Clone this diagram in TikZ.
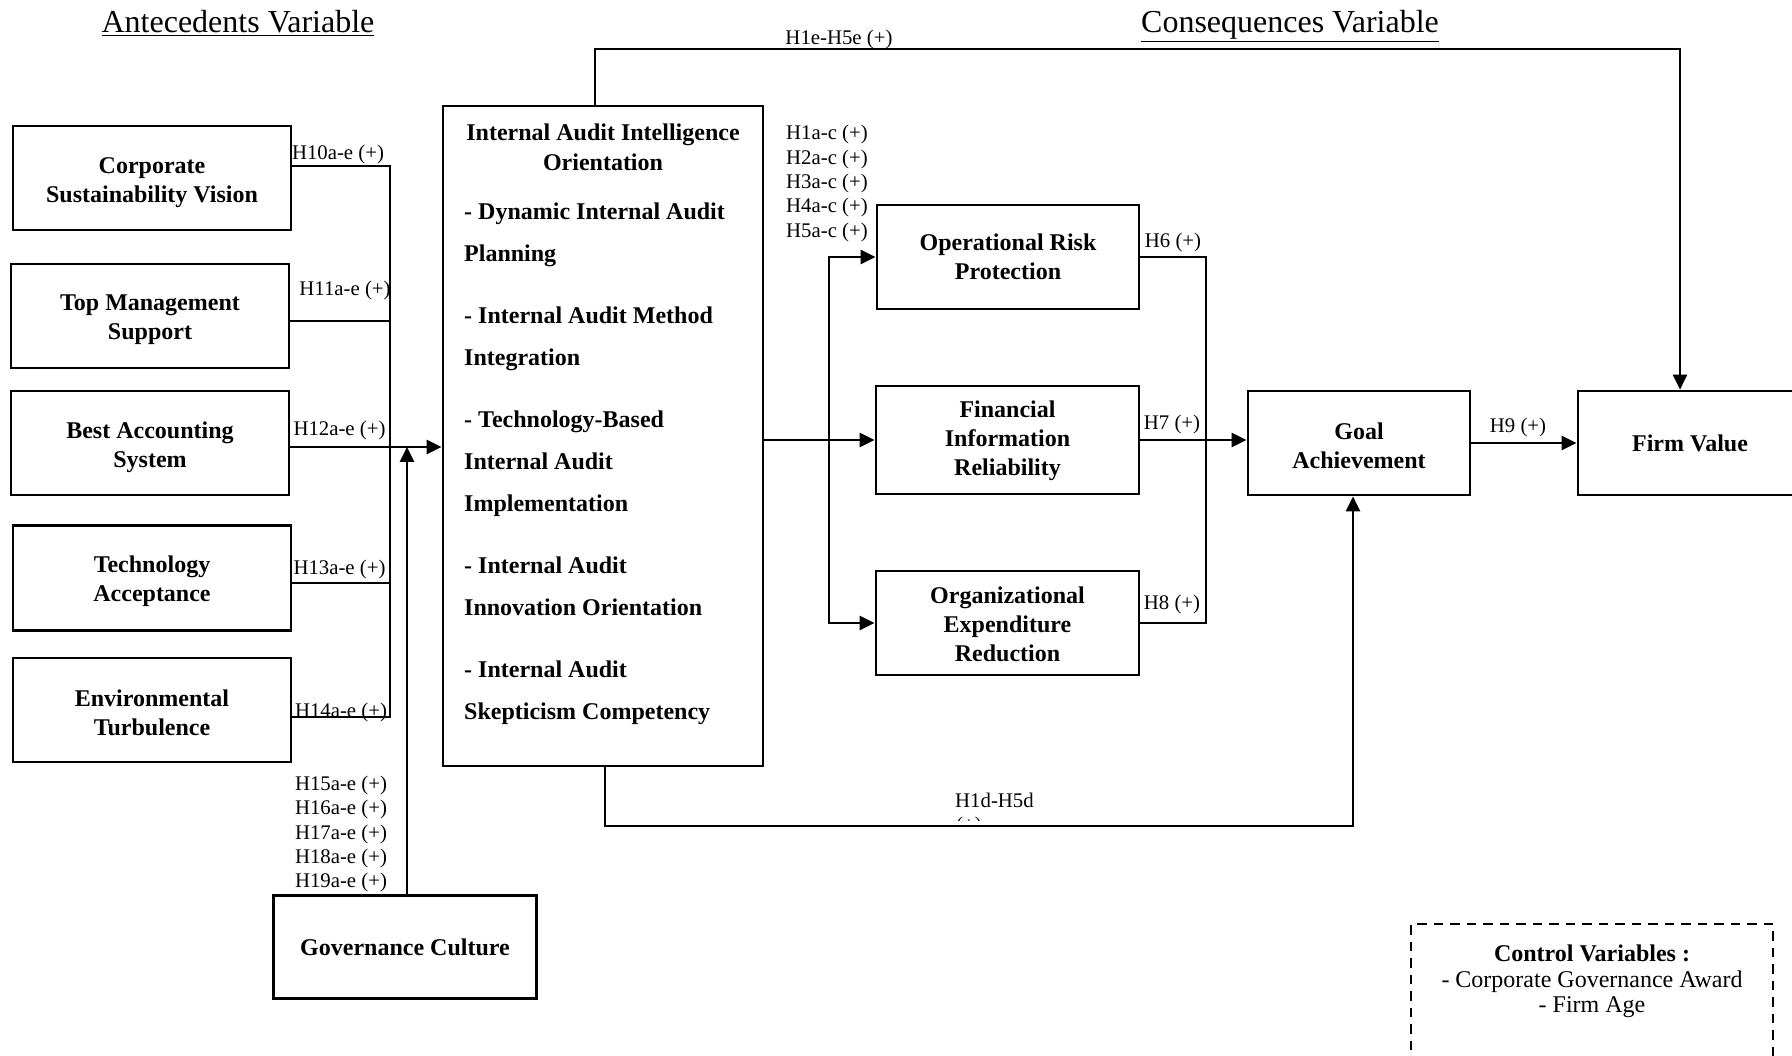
\documentclass[tikz,border=0pt]{standalone}
\usepackage{fontspec}
\setmainfont{Liberation Serif}
\usetikzlibrary{arrows.meta,calc}

% invisible rule that pads the first line of a box label upwards
\newcommand\boxpad[1]{\rule{0pt}{#1}}

\begin{document}
\begin{tikzpicture}[x=1pt,y=-1pt,
  box/.style={draw, line width=2.7pt, inner sep=0pt, align=center,
    font=\bfseries\fontsize{24}{29}\selectfont},
  hyp/.style={inner sep=0pt, font=\fontsize{20.8}{24.4}\selectfont},
  conn/.style={line width=2.7pt},
  arr/.style={conn, -{Triangle[length=15pt,width=14pt]}},
  heading/.style={inner sep=0pt, font=\fontsize{32}{36}\selectfont}]

\fill[white] (0,0) rectangle (1792,1056);
\useasboundingbox (0,0) rectangle (1792,1056);

% headings
\node[heading, anchor=base] (ante) at (238,33) {\underline{Antecedents Variable}};
\node[heading, anchor=base] (cons) at (1290,33) {\underline{Consequences Variable}};

% antecedent constructs
\node[box, minimum width=278pt, minimum height=104pt] (csv) at (152,178) {\boxpad{25pt}Corporate\\Sustainability Vision};
\node[box, minimum width=278pt, minimum height=104pt] (tms) at (150,316) {\boxpad{24pt}Top Management\\Support};
\node[box, minimum width=278pt, minimum height=104pt] (bas) at (150,443) {\boxpad{25pt}Best Accounting\\System};
\node[box, minimum width=278pt, minimum height=105pt] (ta) at (152,578) {\boxpad{24pt}Technology\\Acceptance};
\node[box, minimum width=278pt, minimum height=104pt] (et) at (152,710) {\boxpad{23pt}Environmental\\Turbulence};
\node[box, minimum width=263pt, minimum height=103pt] (gc) at (405,947) {Governance Culture};

% central construct
\node[box, minimum width=320pt, minimum height=660pt] (iaio) at (603,436) {};
\node[inner sep=0pt, align=center, anchor=north,
  font=\bfseries\fontsize{24}{30}\selectfont] (iaiotitle) at (603,124)
  {Internal Audit Intelligence\\Orientation};
\node[inner sep=0pt, align=left, anchor=north west,
  font=\bfseries\fontsize{24}{42}\selectfont] (iaioitems) at (464,203)
  {- Dynamic Internal Audit\\Planning\\[20pt]%
   - Internal Audit Method\\Integration\\[20pt]%
   - Technology-Based\\Internal Audit\\Implementation\\[20pt]%
   - Internal Audit\\Innovation Orientation\\[20pt]%
   - Internal Audit\\Skepticism Competency};

% consequence constructs
\node[box, minimum width=262pt, minimum height=104pt] (orp) at (1008,257) {Operational Risk\\Protection};
\node[box, minimum width=263pt, minimum height=108pt] (fir) at (1007.5,440) {\boxpad{19pt}Financial\\Information\\Reliability};
\node[box, minimum width=263pt, minimum height=104pt] (oer) at (1007.5,623) {\boxpad{19pt}Organizational\\Expenditure\\Reduction};
\node[box, minimum width=222pt, minimum height=104pt] (ga) at (1359,443) {\boxpad{22pt}Goal\\Achievement};
\node[box, minimum width=224pt, minimum height=104pt] (fv) at (1690,443) {Firm Value};

% control variables
\node[draw, line width=2.5pt, dash pattern=on 9.5pt off 7pt, minimum width=362pt, minimum height=166pt] (ctrl) at (1592,1007) {};
\node[inner sep=0pt, align=center, anchor=north, font=\fontsize{24}{25.5}\selectfont] (ctrltext) at (1592,945)
  {\textbf{Control Variables :}\\- Corporate Governance Award\\- Firm Age};

% hypothesis labels
\node[hyp] (h10) at (338,155) {H10a-e (+)};
\node[hyp] (h11) at (345,290) {H11a-e (+)};
\node[hyp] (h12) at (339.5,430) {H12a-e (+)};
\node[hyp] (h13) at (339.5,569) {H13a-e (+)};
\node[hyp] (h14) at (341,712) {H14a-e (+)};
\node[hyp, align=left] (h15) at (341,834) {H15a-e (+)\\H16a-e (+)\\H17a-e (+)\\H18a-e (+)\\H19a-e (+)};
\node[hyp, align=left] (h1ac) at (827,183.5) {H1a-c (+)\\H2a-c (+)\\H3a-c (+)\\H4a-c (+)\\H5a-c (+)};
\node[hyp] (h6) at (1173,243) {H6 (+)};
\node[hyp] (h7) at (1172,424) {H7 (+)};
\node[hyp] (h8) at (1172,604) {H8 (+)};
\node[hyp] (h9) at (1518,427) {H9 (+)};
\node[hyp] (h1e) at (839,40) {H1e-H5e (+)};
\node[hyp, anchor=base west] (h1d) at (955,807) {H1d-H5d};
\begin{scope}
  \clip (940,812) rectangle (1000,820.5);
  \node[hyp, anchor=base west] (h1dplus) at (956,831) {(+)};
\end{scope}

% antecedents into the central construct
\coordinate (busTop) at (390,166);
\coordinate (busBot) at (390,717);
\draw[conn] (csv.east |- busTop) -- (busTop) -- (busBot) -- (et.east |- busBot);
\coordinate (tmsOut) at ([yshift=-5pt]tms.east);
\draw[conn] (tmsOut) -- (tmsOut -| busTop);
\coordinate (taOut) at ([yshift=-5pt]ta.east);
\draw[conn] (taOut) -- (taOut -| busTop);
\coordinate (basOut) at ([yshift=-4pt]bas.east);
\draw[arr] (basOut) -- (basOut -| iaio.west);
\coordinate (gcUp) at (407,0);
\draw[arr] (gcUp |- gc.north) -- (gcUp |- basOut);

% central construct to outcomes
\coordinate (split) at (829,440);
\draw[arr] (fir.west -| iaio.east) -- (fir.west);
\draw[arr] (split) |- (orp.west);
\draw[arr] (split) |- (oer.west);
\coordinate (merge) at (1206,440);
\draw[conn] (orp.east) -| (merge) |- (oer.east);
\draw[arr] (fir.east) -- (fir.east -| ga.west);
\draw[arr] (ga.east) -- (ga.east -| fv.west);

% direct paths
\coordinate (topL) at (595,49);
\coordinate (topR) at (1680,49);
\draw[arr] (topL |- iaio.north) -- (topL) -- (topR) -- (topR |- fv.north);
\coordinate (botL) at (605,826);
\coordinate (botR) at (1353,826);
\draw[arr] (botL |- iaio.south) -- (botL) -- (botR) -- (botR |- ga.south);

\end{tikzpicture}
\end{document}
